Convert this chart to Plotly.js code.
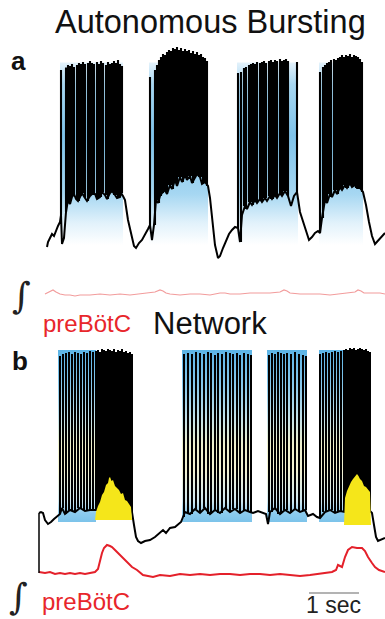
<!DOCTYPE html>
<html>
<head>
<meta charset="utf-8">
<script src="https://cdn.plot.ly/plotly-3.0.1.min.js"></script>
<style>html,body{margin:0;padding:0;background:#fff;}#chart{width:385px;height:619px;}</style>
</head>
<body>
<div id="chart"></div>
<script>
// ---------- Panel a: autonomous bursting (time in s, Vm in mV) ----------
const aVmT = [0.14,0.16,0.20,0.24,0.28,0.32,0.36,0.40,0.42,0.44,0.48,0.52,
  0.56,0.60,0.64,0.68,0.72,0.76,0.80,0.84,0.90,0.94,1.00,1.04,1.10,1.14,1.20,1.24,1.30,1.34,1.40,1.44,1.50,1.54,1.60,1.62,1.66,
  1.70,1.76,1.82,1.88,1.92,1.98,2.04,2.10,2.16,2.20,2.24,2.28,
  2.32,2.36,2.40,2.44,2.50,2.54,2.60,2.64,2.70,2.74,2.80,2.84,2.90,2.94,3.00,3.04,3.10,3.14,3.20,3.24,3.30,3.36,
  3.40,3.44,3.50,3.56,3.60,3.66,3.72,3.78,3.84,3.90,3.96,4.00,
  4.04,4.10,4.14,4.20,4.24,4.30,4.34,4.40,4.44,4.50,4.54,4.60,4.64,4.70,4.74,4.80,4.84,4.90,4.96,5.02,
  5.08,5.14,5.20,5.26,5.32,5.38,5.44,5.50,5.56,5.60,
  5.64,5.70,5.74,5.80,5.84,5.90,5.94,6.00,6.04,6.10,6.14,6.20,6.24,6.30,6.34,6.40,6.46,
  6.52,6.58,6.64,6.70,6.76,6.82,6.90];
const aVm = [-60.8,-58.8,-57.2,-55.6,-56.4,-54,-52.4,-50.8,-48,-59.6,-57.2,-46.8,
  -42,-43.6,-40.8,-39.6,-41.6,-42.4,-40.4,-39.2,-41.2,-42.4,-40.4,-39.6,-39.6,-41.6,-40.8,-38.8,-40,-41.6,-39.2,-38.4,-40,-41.2,-40.8,-39.2,-40.4,
  -42,-50,-55.6,-60.4,-61.2,-59.2,-58,-56,-53.6,-52,-58,-52,
  -42,-43.2,-40.4,-39.2,-38,-39.6,-36,-37.6,-34,-36.4,-32.8,-34.8,-32,-34,-32.4,-35.2,-33.2,-31.6,-32.8,-35.6,-34.8,-36.4,
  -41.2,-50,-60,-65.2,-64.4,-61.2,-58,-55.6,-54,-52.8,-53.2,-58.8,
  -48,-44.4,-45.6,-42.8,-44,-42,-43.2,-41.6,-42.8,-41.2,-42.4,-40.4,-41.6,-40,-41.2,-39.2,-40.4,-38.4,-40.4,-44.4,
  -40.4,-38.8,-46.8,-50.8,-54.8,-58,-56.8,-55.2,-54.4,-55.2,
  -49.2,-42,-43.2,-39.6,-40.8,-38,-39.6,-36.8,-38,-36,-37.2,-35.2,-36.8,-36,-37.2,-37.2,-38.8,
  -44,-50.8,-56.4,-59.6,-58.4,-56.8,-55.2];
const aSpikeT = [0.42,0.52,0.56,0.60,0.64,0.68,0.74,0.78,0.82,0.86,0.90,0.96,1.00,1.04,1.08,1.14,1.18,1.22,1.26,1.32,1.36,1.40,1.44,1.48,1.52,1.56,1.60,1.64,
  2.20,2.30,2.34,2.38,2.42,2.46,2.50,2.54,2.58,2.62,2.66,2.70,2.74,2.78,2.82,2.86,2.90,2.94,2.98,3.02,3.06,3.10,3.14,3.18,3.22,3.26,3.30,3.34,
  3.96,4.02,4.08,4.12,4.18,4.22,4.26,4.30,4.34,4.40,4.44,4.48,4.52,4.58,4.62,4.66,4.70,4.74,4.80,4.84,4.88,4.92,4.96,5.14,
  5.60,5.66,5.70,5.74,5.78,5.82,5.88,5.92,5.96,6.00,6.04,6.08,6.12,6.16,6.20,6.24,6.28,6.32,6.36,6.40,6.44];
const aSpikePeak = [10,11,12,11.6,12.4,11.2,12,12.8,12.4,13.2,12.4,12.8,13.6,12.8,12.4,13.2,12.4,13.6,12.8,12,13.2,12.4,12.8,13.6,12.8,14,12.4,11.6,
  7.2,10,12,14,15.2,16.4,16,17.2,18,17.6,18.8,18.4,19.2,18,18.8,17.6,18.4,17.6,18,16.8,17.6,16.4,17.2,16,16.4,15.2,14.8,13.6,
  8.8,9.2,10.8,11.2,12,12.4,12.8,12.4,13.2,12.8,13.2,13.6,12.8,13.6,14,13.2,14,13.6,14.4,13.6,14,14.4,13.6,13.2,
  9.2,11.2,12,12.8,13.2,14,14.4,14,14.8,15.2,16,15.2,16,15.6,16.4,15.2,16,15.6,15.2,14.4,13.2];
const aBurstOn  = [0.40, 2.18, 3.94, 5.58];
const aBurstOff = [1.66, 3.36, 5.16, 6.46];
const aIntT = [0.10,0.20,0.26,0.32,0.40,0.50,0.60,0.70,0.80,1.00,1.20,1.40,1.60,1.80,2.00,2.20,2.30,2.40,2.46,2.52,2.60,2.80,3.00,3.20,3.40,3.60,3.70,3.80,4.00,4.20,4.40,4.60,4.80,4.88,4.94,5.00,5.20,5.40,5.60,5.80,6.00,6.20,6.30,6.36,6.42,6.48,6.60,6.80,6.90];
const aInt = [-4,4,12,4,-4,-8,-8,-12,-8,-8,-4,-8,-4,-8,-4,0,4,12,8,0,-4,-8,-4,-4,-8,0,0,-4,-4,0,0,0,4,12,8,0,-4,-4,-4,-8,-4,0,4,12,8,0,0,0,-4];

// ---------- Panel b: network bursting ----------
const bVmT = [-0.02,0.02,0.06,0.10,0.16,0.22,0.28,0.34,0.40,0.44,0.50,0.60,0.70,0.80,0.90,1.00,1.10,1.20,1.30,1.40,1.50,1.60,1.70,1.80,1.84,1.88,1.92,1.96,2.02,2.10,2.20,2.30,2.40,2.46,2.52,2.60,2.70,2.76,2.82,2.86,2.90,3.00,3.10,3.20,3.30,3.40,3.50,3.60,3.70,3.80,3.90,4.00,4.10,4.20,4.26,4.36,4.46,4.52,4.56,4.60,4.70,4.80,4.90,5.00,5.10,5.20,5.30,5.36,5.46,5.54,5.60,5.70,5.80,5.90,6.00,6.10,6.20,6.30,6.40,6.50,6.60,6.64,6.68,6.72,6.76,6.82,6.90];
const bVm = [-40,-39.6,-40,-42.8,-44.4,-43.6,-42.4,-41.2,-40.4,-38,-40.4,-38.8,-39.6,-38,-39.2,-38.8,-38.8,-38.8,-39.2,-38.8,-38.4,-38.4,-38.8,-38.4,-39.6,-44.8,-49.6,-51.2,-52,-51.2,-50.8,-49.6,-47.6,-46.8,-48,-46,-45.6,-44.4,-43.6,-41.6,-39.6,-40.4,-38.4,-40,-38,-40.4,-38.8,-40,-38,-39.6,-38.4,-40,-38.8,-39.6,-40,-39.2,-40,-40.4,-44.4,-39.6,-38,-40.4,-38.8,-40,-38.4,-39.6,-38.8,-41.2,-40.4,-41.6,-42,-39.6,-38.8,-40,-39.2,-39.6,-39.2,-39.6,-39.2,-38.8,-39.2,-40,-44.8,-49.6,-51.2,-50.8,-50];
const bSpikeT = [0.40,0.46,0.52,0.58,0.64,0.70,0.76,0.82,0.88,0.94,1.00,1.06,1.12,1.16,1.20,1.24,1.28,1.32,1.36,1.40,1.44,1.48,1.52,1.56,1.60,1.64,1.68,1.72,1.76,1.80,1.84,
  2.88,2.96,3.04,3.12,3.20,3.28,3.36,3.42,3.50,3.56,3.64,3.72,3.80,3.86,3.94,4.00,4.08,4.16,4.22,
  4.58,4.64,4.70,4.76,4.82,4.88,4.94,5.02,5.10,5.18,5.26,5.32,
  5.60,5.66,5.72,5.78,5.84,5.90,5.96,6.02,6.08,6.12,6.16,6.20,6.24,6.28,6.32,6.36,6.40,6.44,6.48,6.52,6.56,6.60];
const bSpikePeak = [22.8,23.6,24,24.4,23.6,24.4,24,23.6,24.4,24,24.8,24.4,24.8,25.2,24.4,25.6,25.2,24.8,25.6,25.2,24.8,25.6,24.4,25.2,24.8,25.6,24.4,24.8,24,24.4,23.6,
  23.6,24,23.6,24.4,24,23.6,24.4,24,23.2,24,23.6,24.4,24,23.6,24,23.2,24,23.6,23.2,
  23.2,24,23.6,24.4,24,23.6,24,23.6,24.4,23.6,23.2,22.8,
  23.6,24,24.4,24,24.4,24.8,24.4,24.8,25.2,25.6,25.2,26,25.6,26,25.2,25.6,26,25.6,25.2,25.6,24.8,24.4];
const bBurstOn  = [0.36, 2.84, 4.54, 5.58];
const bBurstOff = [1.12, 4.24, 5.34, 6.10];
const bYellow1T = [1.10,1.12,1.16,1.20,1.24,1.28,1.32,1.36,1.38,1.40,1.43,1.46,1.50,1.54,1.58,1.62,1.66,1.70,1.74,1.78,1.82,1.84];
const bYellow1V = [-42.8,-39.6,-37.2,-35.6,-32.8,-31.6,-28.8,-28,-26,-25.6,-27.2,-26.8,-29.2,-30,-30.8,-32.4,-32,-34.8,-35.2,-36.4,-37.6,-42.8];
const bYellow2T = [6.08,6.10,6.14,6.18,6.22,6.26,6.30,6.34,6.37,6.40,6.44,6.48,6.52,6.56,6.60,6.62];
const bYellow2V = [-44.8,-34,-31.2,-29.2,-27.6,-26.4,-25.6,-24.4,-25.2,-26.4,-27.2,-29.2,-29.6,-30.8,-31.6,-44.8];
const bIntT = [-0.02,0.10,0.20,0.30,0.40,0.50,0.60,0.70,0.80,0.90,1.00,1.10,1.16,1.20,1.24,1.28,1.34,1.40,1.44,1.50,1.56,1.64,1.74,1.84,1.94,2.06,2.16,2.26,2.40,2.60,2.80,3.00,3.20,3.40,3.60,3.80,4.00,4.20,4.40,4.60,4.80,5.00,5.20,5.40,5.56,5.70,5.84,5.92,5.96,6.04,6.10,6.16,6.24,6.34,6.44,6.50,6.56,6.64,6.70,6.78,6.90];
const bInt = [4,0,4,-4,0,-4,0,-4,0,-4,0,4,16,52,80,100,112,108,104,92,80,64,44,24,12,-8,-12,-16,-8,-12,-4,-8,-4,-8,-4,-4,-8,-4,-4,-8,-4,-8,-12,-8,-4,0,4,12,32,24,64,92,104,100,100,88,64,40,24,12,4];

const scaleBarSec = 1;

// ---------- helpers ----------
function nearest(T, V, t) {
  let bi = 0, bd = Infinity;
  for (let i = 0; i < T.length; i++) { const d = Math.abs(T[i] - t); if (d < bd) { bd = d; bi = i; } }
  return V[bi];
}
function spikes(T, V, ST, SP) {
  const x = [], y = [];
  for (let i = 0; i < ST.length; i++) { x.push(ST[i], ST[i], null); y.push(nearest(T, V, ST[i]), SP[i], null); }
  return {x, y};
}
function boxes(on, off, lo, hi) {
  const x = [], y = [];
  for (let i = 0; i < on.length; i++) { x.push(on[i], off[i], off[i], on[i], null); y.push(lo, lo, hi, hi, null); }
  return {x, y};
}

const aSp = spikes(aVmT, aVm, aSpikeT, aSpikePeak);
const bSp = spikes(bVmT, bVm, bSpikeT, bSpikePeak);
const aBox = boxes(aBurstOn, aBurstOff, -60, 13);
const bBox = boxes(bBurstOn, bBurstOff, -43.6, 25.2);

const traces = [
  {x: aBox.x, y: aBox.y, mode: 'lines', fill: 'toself', line: {width: 0}, hoverinfo: 'skip',
   fillgradient: {type: 'vertical', colorscale: [[0,'#ffffff'],[0.12,'#e2f2fb'],[0.28,'#a6d7f2'],[0.6,'#7fc3ea'],[0.88,'#a8d7f1'],[1,'#e4f2fb']]}, xaxis: 'x', yaxis: 'y'},
  {x: aSp.x, y: aSp.y, mode: 'lines', line: {color: '#000', width: 2.1}, hoverinfo: 'skip', xaxis: 'x', yaxis: 'y'},
  {x: aVmT, y: aVm, mode: 'lines', line: {color: '#000', width: 2}, hoverinfo: 'skip', xaxis: 'x', yaxis: 'y'},
  {x: aIntT, y: aInt, mode: 'lines', line: {color: '#f29c9c', width: 1.2}, hoverinfo: 'skip', xaxis: 'x', yaxis: 'y2'},
  {x: bBox.x, y: bBox.y, mode: 'lines', fill: 'toself', line: {width: 0}, hoverinfo: 'skip',
   fillgradient: {type: 'vertical', colorscale: [[0,'#7cc3ea'],[0.05,'#8ccbee'],[0.12,'#cfe8f0'],[0.3,'#f3f2d2'],[0.45,'#eef0cc'],[0.6,'#c4e2ea'],[0.8,'#86c8ec'],[1,'#5cb4e6']]}, xaxis: 'x', yaxis: 'y3'},
  {x: bSp.x, y: bSp.y, mode: 'lines', line: {color: '#000', width: 2}, hoverinfo: 'skip', xaxis: 'x', yaxis: 'y3'},
  {x: bVmT, y: bVm, mode: 'lines', line: {color: '#000', width: 2}, hoverinfo: 'skip', xaxis: 'x', yaxis: 'y3'},
  {x: bYellow1T, y: bYellow1V, mode: 'lines', fill: 'toself', fillcolor: '#f5e61a', line: {width: 0}, hoverinfo: 'skip', xaxis: 'x', yaxis: 'y3'},
  {x: bYellow2T, y: bYellow2V, mode: 'lines', fill: 'toself', fillcolor: '#f5e61a', line: {width: 0}, hoverinfo: 'skip', xaxis: 'x', yaxis: 'y3'},
  {x: bIntT, y: bInt, mode: 'lines', line: {color: '#e4202a', width: 2}, hoverinfo: 'skip', xaxis: 'x', yaxis: 'y4'}
];

const F = 'Liberation Sans, Arial, Helvetica, sans-serif';
const SERIF = 'DejaVu Serif, Liberation Serif, serif';
const ann = (text, x, y, size, color, extra) => Object.assign({text, x, y, xref: 'paper', yref: 'paper', showarrow: false,
  xanchor: 'center', yanchor: 'middle', font: {family: F, size, color}}, extra || {});

const layout = {
  width: 385, height: 619, margin: {l: 0, r: 0, t: 0, b: 0},
  paper_bgcolor: '#fff', plot_bgcolor: 'rgba(0,0,0,0)', showlegend: false,
  xaxis: {range: [-0.8, 6.9], visible: false, fixedrange: true},
  yaxis: {range: [-209.6, 38], visible: false, fixedrange: true},
  yaxis2: {range: [-1304, 1172], visible: false, overlaying: 'y', fixedrange: true},
  yaxis3: {range: [-82.4, 165.2], visible: false, overlaying: 'y', fixedrange: true},
  yaxis4: {range: [-184, 2292], visible: false, overlaying: 'y', fixedrange: true},
  shapes: [
    {type: 'line', xref: 'x', yref: 'paper', x0: bVmT[0], x1: bVmT[0], y0: 1 - 513 / 619, y1: 1 - 573 / 619, line: {color: '#000', width: 1.5}},
    {type: 'line', xref: 'x', yref: 'paper', x0: 5.38, x1: 5.38 + scaleBarSec, y0: 1 - 593 / 619, y1: 1 - 593 / 619, line: {color: '#9a9a9a', width: 1.5}}
  ],
  annotations: [
    ann('Autonomous Bursting', 0.5455, 0.9645, 32.5, '#111'),
    ann('<b>a</b>', 0.047, 0.9015, 26, '#111'),
    ann('∫', 0.057, 0.522, 36, '#222', {font: {family: SERIF, size: 36, color: '#222'}}),
    ann('preBötC', 0.2247, 0.4766, 24, '#e8262b'),
    ann('Network', 0.5455, 0.4766, 31, '#111'),
    ann('<b>b</b>', 0.052, 0.4168, 26, '#111'),
    ann('∫', 0.049, 0.037, 36, '#222', {font: {family: SERIF, size: 36, color: '#222'}}),
    ann('preBötC', 0.2234, 0.0275, 24, '#e8262b'),
    ann('1 sec', 0.8675, 0, 23, '#222', {yanchor: 'bottom', borderpad: 0})
  ]
};

Plotly.newPlot('chart', traces, layout, {staticPlot: true, displayModeBar: false});
</script>
</body>
</html>
